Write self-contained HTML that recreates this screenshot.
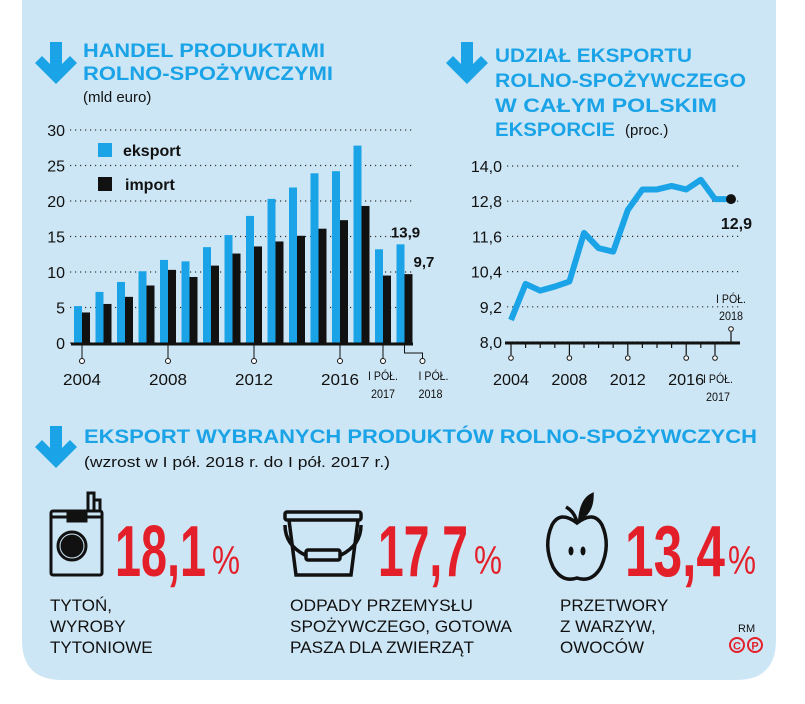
<!DOCTYPE html>
<html><head><meta charset="utf-8"><style>
html,body{margin:0;padding:0;background:#fff}
svg{display:block;font-family:"Liberation Sans",sans-serif}
</style></head><body>
<svg id="s" width="805" height="704" viewBox="0 0 805 704" xmlns="http://www.w3.org/2000/svg">
<path d="M22 0H776V640Q776 680 736 680H62Q22 680 22 640Z" fill="#cde6f5"/>
<g fill="#1aa3e6">
<path d="M50 42h12v22l8-8 7 7-21 21-21-21 7-7 8 8z"/>
<path d="M461 42h12v22l8-8 7 7-21 21-21-21 7-7 8 8z"/>
<path d="M50 426h12v22l8-8 7 7-21 21-21-21 7-7 8 8z"/>
</g>
<g fill="#1aa3e6" font-weight="bold" font-size="19">
<text x="83" y="57" textLength="242" lengthAdjust="spacingAndGlyphs">HANDEL PRODUKTAMI</text>
<text x="83" y="80" textLength="250" lengthAdjust="spacingAndGlyphs">ROLNO-SPOŻYWCZYMI</text>
<text x="495" y="62" textLength="197" lengthAdjust="spacingAndGlyphs">UDZIAŁ EKSPORTU</text>
<text x="495" y="87" textLength="251" lengthAdjust="spacingAndGlyphs">ROLNO-SPOŻYWCZEGO</text>
<text x="495" y="112" textLength="222" lengthAdjust="spacingAndGlyphs">W CAŁYM POLSKIM</text>
<text x="495" y="136" textLength="120" lengthAdjust="spacingAndGlyphs">EKSPORCIE</text>
<text x="84" y="443" textLength="673" lengthAdjust="spacingAndGlyphs">EKSPORT WYBRANYCH PRODUKTÓW ROLNO-SPOŻYWCZYCH</text>
</g>
<g fill="#111" font-size="15">
<text x="83" y="102">(mld euro)</text>
<text x="625" y="135">(proc.)</text>
<text x="84" y="467" textLength="306" lengthAdjust="spacingAndGlyphs">(wzrost w I pół. 2018 r. do I pół. 2017 r.)</text>
</g>
<g id="bar"></g>
<g id="line"></g>

<g fill="none" stroke="#111" stroke-width="3">
<rect x="51" y="511" width="51" height="64" rx="2"/>
<line x1="51" y1="517" x2="102" y2="517"/>
<rect x="68" y="511" width="18" height="10" fill="#111"/>
<rect x="88" y="493" width="6" height="18"/><rect x="94" y="500" width="6" height="11"/>
<circle cx="72" cy="546" r="14"/><circle cx="72" cy="546" r="10" fill="#111"/>
</g>
<g fill="none" stroke="#111" stroke-width="3.5">
<rect x="285" y="512" width="76" height="8" rx="2"/>
<path d="M289 520L296 575H351L358 520"/>
<path d="M285 525Q285 545 305 555M361 525Q361 545 341 555"/>
<rect x="306" y="550" width="34" height="10" rx="2"/>
</g>
<g fill="none" stroke="#111" stroke-width="3.5">
<path d="M577 523Q560 510 552 525Q543 545 553 567Q562 583 577 578Q592 583 601 567Q611 545 602 525Q594 510 577 523Z"/>
<path d="M577 523Q575 512 566 507"/>
<path d="M580 518Q582 500 592 495Q592 512 580 518Z" fill="#111"/>
<ellipse cx="571" cy="551" rx="2" ry="4" fill="#111" stroke-width="1"/>
<ellipse cx="583" cy="551" rx="2" ry="4" fill="#111" stroke-width="1"/>
</g>
<g fill="#e3202a" font-weight="bold" font-size="72">
<text x="115" y="576" textLength="91" lengthAdjust="spacingAndGlyphs">18,1</text>
<text x="378" y="576" textLength="90" lengthAdjust="spacingAndGlyphs">17,7</text>
<text x="625" y="576" textLength="100" lengthAdjust="spacingAndGlyphs">13,4</text>
</g>
<g fill="#e3202a" font-size="40">
<text x="212" y="574" textLength="28" lengthAdjust="spacingAndGlyphs">%</text>
<text x="474" y="574" textLength="28" lengthAdjust="spacingAndGlyphs">%</text>
<text x="728" y="574" textLength="28" lengthAdjust="spacingAndGlyphs">%</text>
</g>
<g fill="#111" font-size="17">
<text x="50" y="611">TYTOŃ,</text>
<text x="50" y="632">WYROBY</text>
<text x="50" y="653">TYTONIOWE</text>
<text x="290" y="611" textLength="183" lengthAdjust="spacingAndGlyphs">ODPADY PRZEMYSŁU</text>
<text x="290" y="632" textLength="222" lengthAdjust="spacingAndGlyphs">SPOŻYWCZEGO, GOTOWA</text>
<text x="290" y="653" textLength="184" lengthAdjust="spacingAndGlyphs">PASZA DLA ZWIERZĄT</text>
<text x="560" y="611">PRZETWORY</text>
<text x="560" y="632">Z WARZYW,</text>
<text x="560" y="653">OWOCÓW</text>
<text x="738" y="632" font-size="11">RM</text>
</g>
<g fill="none" stroke="#e3202a" stroke-width="2">
<circle cx="737" cy="645" r="7"/><circle cx="755" cy="645" r="7"/>
</g>
<text x="737" y="649.5" font-size="11" font-weight="bold" fill="#e3202a" text-anchor="middle">C</text>
<text x="755" y="649.5" font-size="11" font-weight="bold" fill="#e3202a" text-anchor="middle">P</text>
</svg>
<script>
const barCats=['2004','2005','2006','2007','2008','2009','2010','2011','2012','2013','2014','2015','2016','2017','I PÓŁ. 2017','I PÓŁ. 2018'];
const exportVals=[5.2,7.2,8.6,10.1,11.7,11.5,13.5,15.2,17.9,20.3,21.9,23.9,24.2,27.8,13.2,13.9];
const importVals=[4.3,5.5,6.5,8.1,10.3,9.3,10.9,12.6,13.6,14.3,15.1,16.1,17.3,19.3,9.5,9.7];
const barTicks=[0,5,10,15,20,25,30];
const lineCats=['2004','2005','2006','2007','2008','2009','2010','2011','2012','2013','2014','2015','2016','2017','I PÓŁ. 2017','I PÓŁ. 2018'];
const shareVals=[8.75,9.98,9.75,9.89,10.06,11.72,11.2,11.08,12.5,13.2,13.2,13.32,13.2,13.53,12.87,12.87];
const shareTicks=['8,0','9,2','10,4','11,6','12,8','14,0'];
const NS='http://www.w3.org/2000/svg';
function mk(p,t,a,txt){const e=document.createElementNS(NS,t);for(const k in a)e.setAttribute(k,a[k]);if(txt!==undefined)e.textContent=txt;p.appendChild(e);return e;}
const B=document.getElementById('bar');
const by=v=>343-v*(213/30);
const bx=i=>74+i*21.5;
barTicks.forEach(t=>{
 const g=mk(B,'line',{x1:70,x2:412,y1:by(t),y2:by(t),stroke:'#333','stroke-width':1.2,'stroke-dasharray':'1.2 3.8'});
 
 
 const l=mk(B,'text',{x:65,y:by(t)+6,'text-anchor':'end','font-size':16,fill:'#111'},String(t));
 
 
});
exportVals.forEach((v,i)=>{
 const r=mk(B,'rect',{x:bx(i),y:by(v),width:8,height:by(0)-by(v),fill:'#1aa3e6'});
 
 
});
importVals.forEach((v,i)=>{
 const r=mk(B,'rect',{x:bx(i)+8,y:by(v),width:8,height:by(0)-by(v),fill:'#111'});
 
 
});
const ax=mk(B,'line',{x1:71,x2:413,y1:344,y2:344,stroke:'#111','stroke-width':3});


[0,4,8,12,14].forEach(i=>{
 const cx=bx(i)+8;
 const t=mk(B,'line',{x1:cx,x2:cx,y1:344,y2:358,stroke:'#111','stroke-width':1});
 
 
 const c=mk(B,'circle',{cx:cx,cy:361,r:2.5,fill:'#fff',stroke:'#111','stroke-width':1});
 
 
 if(i<14){const l=mk(B,'text',{x:cx,y:385,'text-anchor':'middle','font-size':16,fill:'#111',textLength:38,lengthAdjust:'spacingAndGlyphs'},barCats[i]);
 
 }
});
{const i=15,cx=bx(i)+8;
 const p=mk(B,'path',{d:`M${cx} 344V353H${cx+18}V358`,fill:'none',stroke:'#111','stroke-width':1});
 
 
 const c=mk(B,'circle',{cx:cx+18,cy:361,r:2.5,fill:'#fff',stroke:'#111','stroke-width':1});
 
 
 [['I PÓŁ.',380,30],['2018',398,24]].forEach(a=>{const l=mk(B,'text',{x:cx+14,y:a[1],'font-size':12,fill:'#111',textLength:a[2],lengthAdjust:'spacingAndGlyphs'},a[0]);
 
 });
}
{const cx=bx(14)+8;
 [['I PÓŁ.',380,30],['2017',398,24]].forEach(a=>{const l=mk(B,'text',{x:cx,y:a[1],'text-anchor':'middle','font-size':12,fill:'#111',textLength:a[2],lengthAdjust:'spacingAndGlyphs'},a[0]);
 
 });
}
{const n=exportVals.length-1;
 const l1=mk(B,'text',{x:bx(n)+9,y:by(exportVals[n])-7,'text-anchor':'middle','font-size':15,'font-weight':'bold',fill:'#111'},exportVals[n].toFixed(1).replace('.',','));
 
 
 const l2=mk(B,'text',{x:bx(n)+17,y:by(importVals[n])-7,'font-size':15,'font-weight':'bold',fill:'#111'},importVals[n].toFixed(1).replace('.',','));
 
 
}
const le1=mk(B,'rect',{x:98,y:143,width:14,height:14,fill:'#1aa3e6'});


const lt1=mk(B,'text',{x:123,y:156,'font-size':16,'font-weight':'bold',fill:'#111'},'eksport');


const le2=mk(B,'rect',{x:98,y:177,width:14,height:14,fill:'#111'});


const lt2=mk(B,'text',{x:125,y:190,'font-size':16,'font-weight':'bold',fill:'#111'},'import');


const L=document.getElementById('line');
const ly=v=>342-(v-8)*(176/6);
const lx=i=>i<14?511+i*14.6:(i===14?715:731);
shareTicks.forEach(t=>{
 const v=parseFloat(t.replace(',','.'));
 const g=mk(L,'line',{x1:507,x2:740,y1:ly(v),y2:ly(v),stroke:'#333','stroke-width':1.2,'stroke-dasharray':'1.2 3.8'});
 
 
 const l=mk(L,'text',{x:502,y:ly(v)+6,'text-anchor':'end','font-size':16,fill:'#111'},t);
 
 
});
const lax=mk(L,'line',{x1:505,x2:740,y1:343,y2:343,stroke:'#111','stroke-width':3});


for(let i=0;i<14;i++){
 const m=mk(L,'line',{x1:lx(i),x2:lx(i),y1:343,y2:i%4===0?355:348,stroke:'#111','stroke-width':1.2});
 
 
 if(i%4===0){
  const c=mk(L,'circle',{cx:lx(i),cy:358,r:2.3,fill:'#fff',stroke:'#111','stroke-width':1});
  
  
  const l=mk(L,'text',{x:lx(i),y:385,'text-anchor':'middle','font-size':16,fill:'#111',textLength:36,lengthAdjust:'spacingAndGlyphs'},lineCats[i]);
  
  
 }
}
{const x=lx(14);
 const m=mk(L,'line',{x1:x,x2:x,y1:343,y2:355,stroke:'#111','stroke-width':1.2});
 
 
 const c=mk(L,'circle',{cx:x,cy:358,r:2.3,fill:'#fff',stroke:'#111','stroke-width':1});
 
 
 [['I PÓŁ.',383,30],['2017',401,24]].forEach(a=>{const l=mk(L,'text',{x:x+3,y:a[1],'text-anchor':'middle','font-size':12,fill:'#111',textLength:a[2],lengthAdjust:'spacingAndGlyphs'},a[0]);
 
 });
}
{const x=lx(15);
 const m=mk(L,'line',{x1:x,x2:x,y1:343,y2:332,stroke:'#111','stroke-width':1.2});
 
 
 const c=mk(L,'circle',{cx:x,cy:329,r:2.3,fill:'#fff',stroke:'#111','stroke-width':1});
 
 
 [['I PÓŁ.',303,30],['2018',320,24]].forEach(a=>{const l=mk(L,'text',{x:x,y:a[1],'text-anchor':'middle','font-size':12,fill:'#111',textLength:a[2],lengthAdjust:'spacingAndGlyphs'},a[0]);
 
 });
}
const pts=shareVals.map((v,i)=>lx(i)+','+ly(v)).join(' ');
const pl=mk(L,'polyline',{points:pts,fill:'none',stroke:'#1aa3e6','stroke-width':6,'stroke-linejoin':'round'});


{const n=shareVals.length-1;
 const d=mk(L,'circle',{cx:lx(n),cy:ly(shareVals[n]),r:5,fill:'#111'});
 
 
 const l=mk(L,'text',{x:lx(n)+21,y:ly(shareVals[n])+30,'text-anchor':'end','font-size':16,'font-weight':'bold',fill:'#111'},shareVals[n].toFixed(1).replace('.',','));
 
 
}
</script>
</body></html>
